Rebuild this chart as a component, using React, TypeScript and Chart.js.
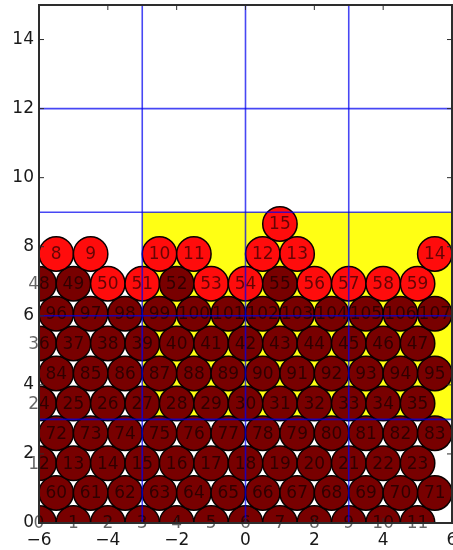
import { useEffect, useRef } from "react";
import { Chart, registerables } from "chart.js";

Chart.register(...registerables);

// ---- axes / decoration values ----
const X_RANGE = [-6, 6];
const Y_RANGE = [0, 15];
const X_TICKS = [-6, -4, -2, 0, 2, 4, 6];
const Y_TICKS = [0, 2, 4, 6, 8, 10, 12, 14];
const GRID_X = [-3, 0, 3];
const GRID_Y = [3, 6, 9, 12];
const ZONE_X = [-3, 6];
const ZONE_Y = [3, 9];
const BALL_RADIUS = 0.5;

// ---- ball centres, row by row ----
const EVEN_X = [-6, -5, -4, -3, -2, -1, 0, 1, 2, 3, 4, 5];
const ODD_X = [-5.5, -4.5, -3.5, -2.5, -1.5, -0.5, 0.5, 1.5, 2.5, 3.5, 4.5, 5.5];
const TOP_X = [-5.5, -4.5, -2.5, -1.5, 0.5, 1.5, 5.5];
const PEAK_X = [1];
const ROW_Y = [0, 0.87, 1.73, 2.6, 3.46, 4.33, 5.2, 6.06, 6.93, 7.79, 8.66];
const ROW_X = [EVEN_X, ODD_X, EVEN_X, ODD_X, EVEN_X, ODD_X, EVEN_X, ODD_X, EVEN_X, TOP_X, PEAK_X];
const ROW_LABELS = [
  [0, 1, 2, 3, 4, 5, 6, 7, 8, 9, 10, 11],
  [60, 61, 62, 63, 64, 65, 66, 67, 68, 69, 70, 71],
  [12, 13, 14, 15, 16, 17, 18, 19, 20, 21, 22, 23],
  [72, 73, 74, 75, 76, 77, 78, 79, 80, 81, 82, 83],
  [24, 25, 26, 27, 28, 29, 30, 31, 32, 33, 34, 35],
  [84, 85, 86, 87, 88, 89, 90, 91, 92, 93, 94, 95],
  [36, 37, 38, 39, 40, 41, 42, 43, 44, 45, 46, 47],
  [96, 97, 98, 99, 100, 101, 102, 103, 104, 105, 106, 107],
  [48, 49, 50, 51, 52, 53, 54, 55, 56, 57, 58, 59],
  [8, 9, 10, 11, 12, 13, 14],
  [15],
];
// rows whose balls are all "loose" (bright red)
const LOOSE_ROWS = [9, 10];
// in row 8 only these balls are loose
const PARTIAL_ROW = 8;
const PARTIAL_LOOSE = [50, 51, 53, 54, 56, 57, 58, 59];

type Ball = { x: number; y: number; label: number; loose: boolean };
const BALLS: Ball[] = [];
ROW_Y.forEach((yv, r) => {
  ROW_X[r].forEach((xv, i) => {
    const label = ROW_LABELS[r][i];
    const loose =
      LOOSE_ROWS.includes(r) || (r === PARTIAL_ROW && PARTIAL_LOOSE.includes(label));
    BALLS.push({ x: xv, y: yv, label, loose });
  });
});

const RED = "rgb(255,12,12)";
const MAROON = "rgb(120,0,0)";
const LABEL_FONT = '17px "DejaVu Sans"';
const TICK_FONT = '17px "DejaVu Sans"';

const overlay = {
  id: "overlay",
  beforeDatasetsDraw(chart: any) {
    const { ctx, chartArea: a, scales } = chart;
    const { x, y } = scales;
    ctx.save();
    ctx.beginPath();
    ctx.rect(a.left, a.top, a.right - a.left, a.bottom - a.top);
    ctx.clip();
    const x0 = x.getPixelForValue(ZONE_X[0]);
    const x1 = x.getPixelForValue(ZONE_X[1]);
    const y0 = y.getPixelForValue(ZONE_Y[0]);
    const y1 = y.getPixelForValue(ZONE_Y[1]);
    ctx.fillStyle = "rgb(255,255,20)";
    ctx.fillRect(x0, y1, x1 - x0, y0 - y1);
    ctx.restore();
  },
  afterDatasetsDraw(chart: any) {
    const { ctx, chartArea: a, scales } = chart;
    const { x, y } = scales;

    // ball labels (not clipped)
    ctx.save();
    ctx.font = LABEL_FONT;
    ctx.textAlign = "center";
    ctx.textBaseline = "middle";
    ctx.fillStyle = "rgba(0,0,0,0.6)";
    BALLS.forEach((b) => {
      ctx.fillText(String(b.label), x.getPixelForValue(b.x), y.getPixelForValue(b.y) + 1);
    });
    ctx.restore();

    // grid on top
    ctx.save();
    ctx.beginPath();
    ctx.rect(a.left, a.top, a.right - a.left, a.bottom - a.top);
    ctx.clip();
    ctx.strokeStyle = "rgba(0,0,240,0.72)";
    ctx.lineWidth = 1.6;
    GRID_X.forEach((v) => {
      const px = x.getPixelForValue(v);
      ctx.beginPath();
      ctx.moveTo(px, a.top);
      ctx.lineTo(px, a.bottom);
      ctx.stroke();
    });
    GRID_Y.forEach((v) => {
      const py = y.getPixelForValue(v);
      ctx.beginPath();
      ctx.moveTo(a.left, py);
      ctx.lineTo(a.right, py);
      ctx.stroke();
    });
    ctx.restore();

    // frame and inward ticks
    ctx.save();
    ctx.strokeStyle = "rgb(45,45,45)";
    ctx.lineWidth = 2;
    ctx.strokeRect(a.left, a.top, a.right - a.left, a.bottom - a.top);
    ctx.lineWidth = 1;
    X_TICKS.forEach((v) => {
      const px = x.getPixelForValue(v);
      ctx.beginPath();
      ctx.moveTo(px, a.bottom);
      ctx.lineTo(px, a.bottom - 5);
      ctx.moveTo(px, a.top);
      ctx.lineTo(px, a.top + 5);
      ctx.stroke();
    });
    Y_TICKS.forEach((v) => {
      const py = y.getPixelForValue(v);
      ctx.beginPath();
      ctx.moveTo(a.left, py);
      ctx.lineTo(a.left + 5, py);
      ctx.moveTo(a.right, py);
      ctx.lineTo(a.right - 5, py);
      ctx.stroke();
    });

    // tick labels
    ctx.font = TICK_FONT;
    ctx.fillStyle = "rgb(25,25,25)";
    ctx.textAlign = "center";
    ctx.textBaseline = "alphabetic";
    X_TICKS.forEach((v) => {
      const txt = v < 0 ? "\u2212" + Math.abs(v) : String(v);
      ctx.fillText(txt, x.getPixelForValue(v), a.bottom + 22);
    });
    ctx.textAlign = "right";
    ctx.textBaseline = "middle";
    Y_TICKS.forEach((v) => {
      ctx.fillText(String(v), a.left - 5, y.getPixelForValue(v));
    });
    ctx.restore();
  },
};

export default function App() {
  const ref = useRef<HTMLCanvasElement | null>(null);
  useEffect(() => {
    if (!ref.current) return;
    const radiusPx = (c: any) => {
      const s = c.chart.scales.x;
      if (!s) return 17;
      return Math.abs(s.getPixelForValue(BALL_RADIUS) - s.getPixelForValue(0));
    };
    const chart = new Chart(ref.current, {
      type: "scatter",
      data: {
        datasets: [
          {
            data: BALLS.map((b) => ({ x: b.x, y: b.y })),
            pointRadius: radiusPx,
            pointHoverRadius: radiusPx,
            backgroundColor: (c: any) => (BALLS[c.dataIndex] && BALLS[c.dataIndex].loose ? RED : MAROON),
            borderColor: "rgb(10,0,0)",
            borderWidth: 1.5,
            clip: 0,
          } as any,
        ],
      },
      options: {
        animation: false,
        responsive: false,
        devicePixelRatio: 1,
        events: [],
        layout: { padding: { left: 39, right: 1, top: 5, bottom: 27 } },
        scales: {
          x: { type: "linear", min: X_RANGE[0], max: X_RANGE[1], display: false },
          y: { type: "linear", min: Y_RANGE[0], max: Y_RANGE[1], display: false },
        },
        plugins: { legend: { display: false }, tooltip: { enabled: false } },
      },
      plugins: [overlay],
    });
    return () => chart.destroy();
  }, []);
  return (
    <div style={{ position: "fixed", left: 0, top: 0, width: 453, height: 550, background: "#fff" }}>
      <canvas ref={ref} width={453} height={550} style={{ display: "block", width: 453, height: 550 }} />
    </div>
  );
}
